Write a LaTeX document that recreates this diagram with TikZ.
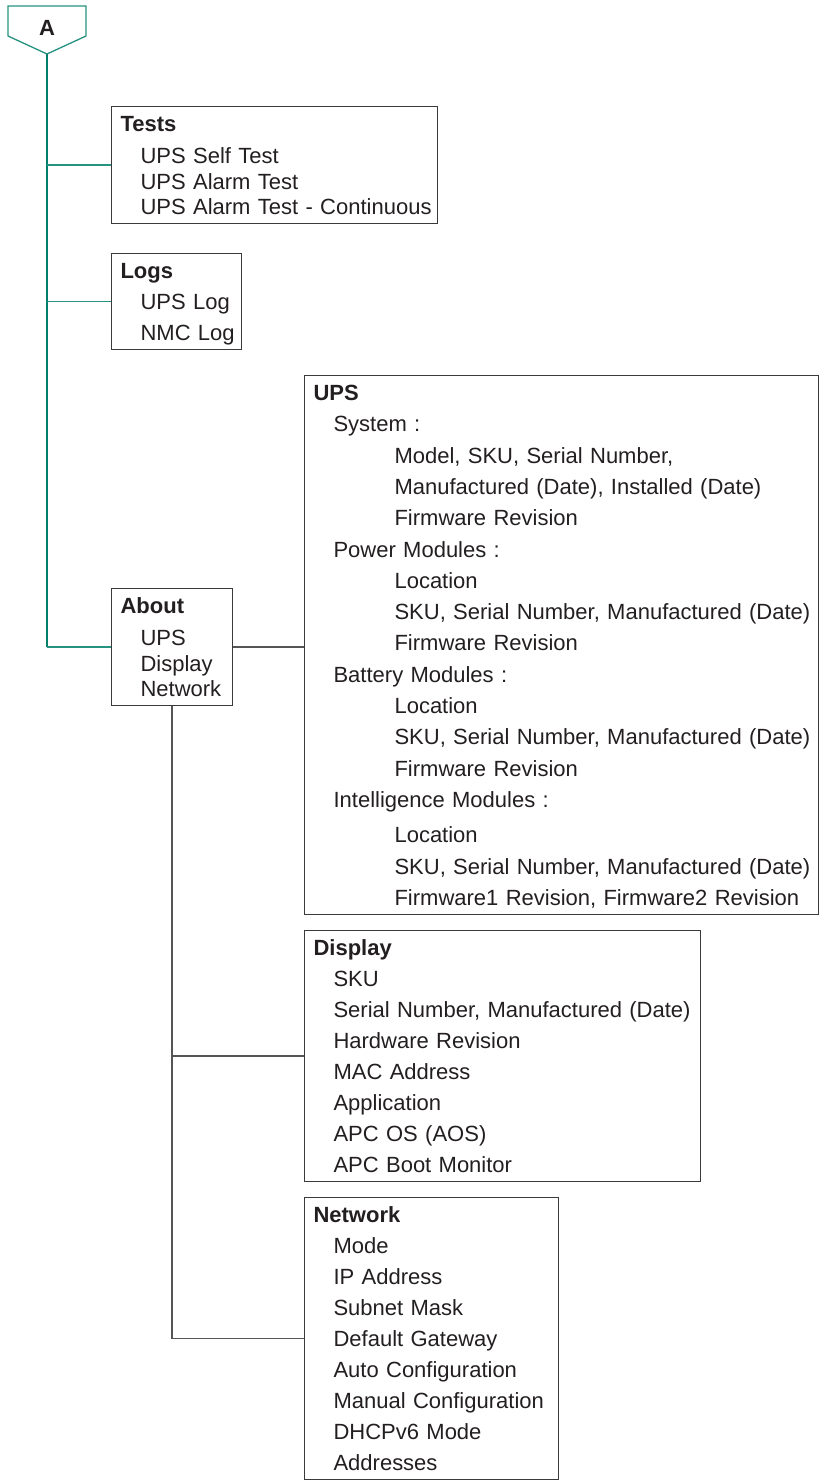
\documentclass[tikz,border=0pt]{standalone}
\usepackage{fontspec}
\setmainfont{Liberation Sans}
\usetikzlibrary{positioning}
\definecolor{trunkcolor}{HTML}{00806B}
\definecolor{wirecolor}{HTML}{555555}
\definecolor{boxcolor}{HTML}{3A3A3A}
\definecolor{textcolor}{HTML}{231F20}
\newcommand{\lvone}[1]{\hspace*{20pt}\mbox{#1}}
\newcommand{\lvtwo}[1]{\hspace*{81pt}\mbox{#1}}

\begin{document}
\begin{tikzpicture}[x=1pt, y=-1pt,
    every node/.style={font=\fontsize{22}{31}\selectfont, text=textcolor},
    menu/.style={draw=boxcolor, line width=1.1pt, anchor=north west, align=left,
        inner xsep=9pt, inner ysep=0pt,
        execute at begin node=\rule{0pt}{25pt},
        execute at end node=\rule[-9pt]{0pt}{9pt}},
    tight/.style={font=\fontsize{22}{25.5}\selectfont},
    trunk/.style={trunkcolor, line width=2.2pt},
    branch/.style={trunkcolor!85, line width=1.3pt},
    wire/.style={wirecolor, line width=1.2pt},
]
\useasboundingbox (0,0) rectangle (824,1483);

% the off-page tag
\node[font=\fontsize{22}{26}\selectfont\bfseries] (A) at (47,27.5) {A};
\draw[branch] (8,6) -- (86,6) -- (86,36) -- (47,54) -- (8,36) -- cycle;
\coordinate (Atip) at (47,54);

% first level
\node[menu, tight, text width=308pt] (tests) at (111,106)
    {\textbf{Tests}\\[6.5pt]
     \lvone{UPS Self Test}\\
     \lvone{UPS Alarm Test}\\
     \lvone{UPS Alarm Test - Continuous}};
\node[menu, text width=112pt] (logs) at (111,253)
    {\textbf{Logs}\\
     \lvone{UPS Log}\\
     \lvone{NMC Log}};
\node[menu, tight, text width=103pt] (about) at (111,588)
    {\textbf{About}\\[6.5pt]
     \lvone{UPS}\\
     \lvone{Display}\\
     \lvone{Network}};

% second level, under About
\node[menu, font=\fontsize{22}{31.3}\selectfont, text width=496pt] (ups) at (304,375)
    {\textbf{UPS}\\
     \lvone{System :}\\
     \lvtwo{Model, SKU, Serial Number,}\\
     \lvtwo{Manufactured (Date), Installed (Date)}\\
     \lvtwo{Firmware Revision}\\
     \lvone{Power Modules :}\\
     \lvtwo{Location}\\
     \lvtwo{SKU, Serial Number, Manufactured (Date)}\\
     \lvtwo{Firmware Revision}\\
     \lvone{Battery Modules :}\\
     \lvtwo{Location}\\
     \lvtwo{SKU, Serial Number, Manufactured (Date)}\\
     \lvtwo{Firmware Revision}\\
     \lvone{Intelligence Modules :}\\[4pt]
     \lvtwo{Location}\\
     \lvtwo{SKU, Serial Number, Manufactured (Date)}\\
     \lvtwo{Firmware1 Revision, Firmware2 Revision}};
\node[menu, text width=378pt] (display) at (304,930)
    {\textbf{Display}\\
     \lvone{SKU}\\
     \lvone{Serial Number, Manufactured (Date)}\\
     \lvone{Hardware Revision}\\
     \lvone{MAC Address}\\
     \lvone{Application}\\
     \lvone{APC OS (AOS)}\\
     \lvone{APC Boot Monitor}};
\node[menu, text width=236pt] (network) at (304,1197)
    {\textbf{Network}\\
     \lvone{Mode}\\
     \lvone{IP Address}\\
     \lvone{Subnet Mask}\\
     \lvone{Default Gateway}\\
     \lvone{Auto Configuration}\\
     \lvone{Manual Configuration}\\
     \lvone{DHCPv6 Mode}\\
     \lvone{Addresses}};

% the green trunk
\draw[trunk] (Atip) -- (Atip |- about.west);
\foreach \n in {tests, logs, about}{
    \draw[branch] (Atip |- \n.west) -- (\n.west);
}

% grey wires from About
\draw[wire] (about.east) -- (about.east -| ups.west);
\draw[wire] (about.south) |- (network.west);
\draw[wire] (about.south |- display.west) -- (display.west);
\end{tikzpicture}
\end{document}
